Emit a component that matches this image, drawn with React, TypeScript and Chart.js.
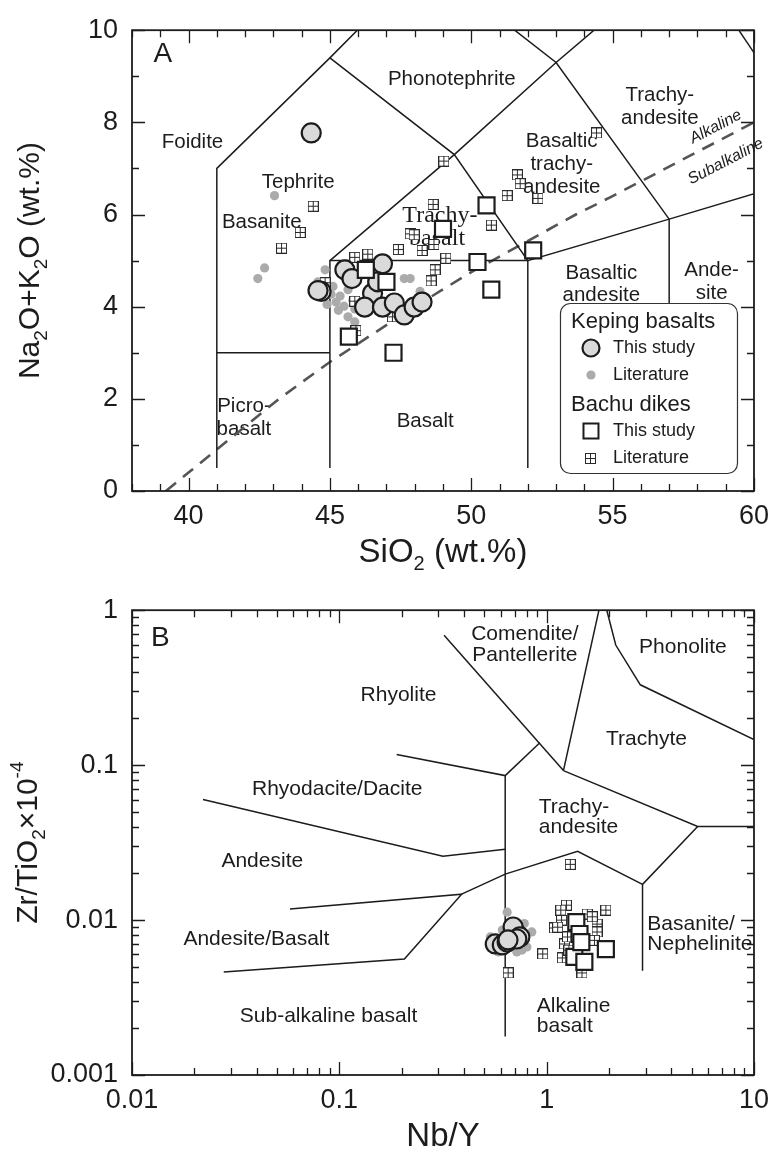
import { useEffect, useRef } from "react";
import { Chart, registerables } from "chart.js";
import type { ChartConfiguration, Plugin } from "chart.js";

Chart.register(...registerables);

const SANS = "'Liberation Sans', Arial, Helvetica, sans-serif";
const SERIF = "'Liberation Serif', 'Times New Roman', serif";
const INK = "#1c1c1c";

type Pt = [number, number];

// ---------- Panel A: total alkali vs silica ----------
const sio2Ticks = [40, 45, 50, 55, 60];
const alkaliTicks = [0, 2, 4, 6, 8, 10];

const kepingTasStudy: Pt[] = [
  [44.34, 7.77], [45.53, 4.8], [45.78, 4.61], [46.86, 4.93], [44.69, 4.33],
  [44.58, 4.35], [46.51, 4.29], [46.23, 3.99], [46.86, 3.99], [47.28, 4.08],
  [47.63, 3.82], [47.98, 3.99], [48.26, 4.1], [46.69, 4.54],
];
const kepingTasLit: Pt[] = [
  [43.04, 6.41], [42.69, 4.84], [42.45, 4.61], [44.83, 4.8], [44.58, 4.54],
  [45.11, 4.44], [45.36, 4.23], [45.64, 4.37], [45.22, 4.1], [45.5, 4.01],
  [45.81, 4.14], [45.04, 4.27], [45.88, 3.95], [45.64, 3.78], [45.88, 3.67],
  [47.63, 4.61], [47.84, 4.61], [48.19, 4.33], [44.9, 4.05], [45.3, 3.92],
];
const bachuTasStudy: Pt[] = [
  [46.27, 4.8], [47.0, 4.54], [45.67, 3.35], [47.25, 3.0], [50.54, 6.2],
  [49.0, 5.69], [52.19, 5.22], [50.22, 4.97], [50.71, 4.37],
];
const bachuTasLit: Pt[] = [
  [44.41, 6.18], [43.95, 5.61], [43.29, 5.27], [49.03, 7.16], [51.63, 6.86],
  [51.73, 6.67], [51.27, 6.41], [52.36, 6.35], [48.65, 6.22], [50.71, 5.77],
  [47.84, 5.58], [47.98, 5.56], [48.68, 5.35], [47.42, 5.24], [48.26, 5.22],
  [49.1, 5.05], [48.72, 4.8], [48.58, 4.56], [45.88, 5.07], [46.34, 5.14],
  [44.83, 4.52], [45.88, 4.12], [47.21, 3.78], [45.92, 3.48], [54.43, 7.77],
];

// Le Bas et al. (1986) field boundaries
const tasFields: Pt[][] = [
  [[41, 0.5], [41, 7], [45, 9.4], [48.4, 11.5]],
  [[41, 3], [45, 3]],
  [[45, 0.5], [45, 5], [49.4, 7.3], [53, 9.3], [57.6, 11.7]],
  [[45, 9.4], [49.4, 7.3], [52, 5], [57, 5.9], [63, 7]],
  [[45, 5], [52, 5]],
  [[52, 0.5], [52, 5]],
  [[48.4, 11.5], [53, 9.3], [57, 5.9], [57, 0.5]],
  [[57.6, 11.7], [61, 8.6]],
];

// Irvine & Baragar (1971) alkaline / subalkaline divide
const alkalineDivide: Pt[] = [
  [39.2, 0], [40, 0.4], [43.2, 2], [45, 2.8], [48, 4], [50, 4.75], [53.7, 6], [55, 6.4], [60, 8],
];

type FieldLabel = {
  text: string;
  x: number;
  y: number;
  size?: number;
  serif?: boolean;
  italic?: boolean;
  align?: CanvasTextAlign;
  alongDivide?: boolean;
};

const tasLabels: FieldLabel[] = [
  { text: "A", x: 39.09, y: 9.47, size: 28 },
  { text: "Foidite", x: 40.14, y: 7.56 },
  { text: "Tephrite", x: 43.88, y: 6.69 },
  { text: "Phonotephrite", x: 49.31, y: 8.94 },
  { text: "Basaltic", x: 53.2, y: 7.58 },
  { text: "trachy-", x: 53.2, y: 7.09 },
  { text: "andesite", x: 53.2, y: 6.6 },
  { text: "Trachy-", x: 56.67, y: 8.58 },
  { text: "andesite", x: 56.67, y: 8.09 },
  { text: "Basanite", x: 42.59, y: 5.82 },
  { text: "Trachy-", x: 48.89, y: 5.97, serif: true, size: 24 },
  { text: "basalt", x: 48.79, y: 5.48, serif: true, size: 24 },
  { text: "Basaltic", x: 54.6, y: 4.73 },
  { text: "andesite", x: 54.6, y: 4.25 },
  { text: "Ande-", x: 58.5, y: 4.78 },
  { text: "site", x: 58.5, y: 4.29 },
  { text: "Picro-", x: 41.96, y: 1.83 },
  { text: "basalt", x: 41.96, y: 1.34 },
  { text: "Basalt", x: 48.37, y: 1.51 },
  { text: "Alkaline", x: 58.65, y: 7.9, size: 16, italic: true, alongDivide: true },
  { text: "Subalkaline", x: 59.0, y: 7.15, size: 16, italic: true, alongDivide: true },
];

// ---------- Panel B: Zr/TiO2 vs Nb/Y (Winchester & Floyd, 1977) ----------
const nbyTicks = [0.01, 0.1, 1, 10];
const zrTiTicks = [0.001, 0.01, 0.1, 1];

const kepingWfStudy: Pt[] = [
  [0.565, 0.00701], [0.611, 0.00691], [0.645, 0.00722], [0.705, 0.00838],
  [0.689, 0.00902], [0.743, 0.00778], [0.718, 0.00755], [0.651, 0.00744],
];
const kepingWfLit: Pt[] = [
  [0.645, 0.01125], [0.611, 0.00863], [0.848, 0.00838], [0.803, 0.0067],
  [0.585, 0.00622], [0.718, 0.00622], [0.535, 0.00778], [0.76, 0.0064], [0.78, 0.0095],
];
const bachuWfStudy: Pt[] = [
  [1.39, 0.0097], [1.44, 0.00813], [1.93, 0.0065], [1.36, 0.00578], [1.52, 0.00537], [1.47, 0.0072],
];
const bachuWfLit: Pt[] = [
  [1.3, 0.0229], [0.652, 0.00456], [1.245, 0.01248], [1.18, 0.01], [1.09, 0.00889],
  [1.75, 0.00942], [1.75, 0.00838], [1.93, 0.0116], [1.22, 0.00701], [0.957, 0.00604],
  [1.19, 0.0057], [1.48, 0.00456], [1.26, 0.00778], [1.57, 0.01094], [1.13, 0.009],
  [1.28, 0.0064], [1.7, 0.0074], [1.66, 0.0105], [1.17, 0.0116],
];

const wfFields: Pt[][] = [
  [[0.32, 0.69], [1.205, 0.0922]],
  [[1.787, 1], [1.205, 0.0922]],
  [[1.95, 1], [2.154, 0.596], [2.83, 0.33], [10, 0.146]],
  [[0.189, 0.117], [0.631, 0.0856], [0.927, 0.1395]],
  [[0.631, 0.0856], [0.631, 0.00177]],
  [[1.205, 0.0922], [5.35, 0.0402], [10, 0.0402]],
  [[5.35, 0.0402], [2.9, 0.017], [2.9, 0.0047]],
  [[0.389, 0.01469], [0.631, 0.0198], [1.41, 0.0278], [2.9, 0.017]],
  [[0.022, 0.06], [0.316, 0.0258], [0.631, 0.0286]],
  [[0.0578, 0.01177], [0.389, 0.01469], [0.206, 0.00561], [0.0277, 0.00463]],
];

const wfLabels: FieldLabel[] = [
  { text: "B", x: 0.0137, y: 0.66, size: 28 },
  { text: "Comendite/", x: 0.785, y: 0.701 },
  { text: "Pantellerite", x: 0.785, y: 0.514 },
  { text: "Phonolite", x: 4.54, y: 0.578 },
  { text: "Rhyolite", x: 0.193, y: 0.284 },
  { text: "Trachyte", x: 3.03, y: 0.146 },
  { text: "Rhyodacite/Dacite", x: 0.0977, y: 0.0696 },
  { text: "Trachy-", x: 0.916, y: 0.0533, align: "left" },
  { text: "andesite", x: 0.916, y: 0.0396, align: "left" },
  { text: "Andesite", x: 0.0425, y: 0.0239 },
  { text: "Basanite/", x: 3.06, y: 0.00942, align: "left" },
  { text: "Nephelinite", x: 3.06, y: 0.00701, align: "left" },
  { text: "Andesite/Basalt", x: 0.0398, y: 0.00755 },
  { text: "Sub-alkaline basalt", x: 0.0887, y: 0.00238 },
  { text: "Alkaline", x: 0.896, y: 0.0028, align: "left" },
  { text: "basalt", x: 0.896, y: 0.00205, align: "left" },
];

// ---------- shared drawing helpers ----------
const toXY = (pts: Pt[]) => pts.map(([x, y]) => ({ x, y }));

function boxCross(size: number): HTMLCanvasElement {
  const c = document.createElement("canvas");
  c.width = size;
  c.height = size;
  const g = c.getContext("2d")!;
  g.fillStyle = "#ffffff";
  g.fillRect(0, 0, size, size);
  g.strokeStyle = "#2a2a2a";
  g.lineWidth = 1;
  g.strokeRect(0.5, 0.5, size - 1, size - 1);
  const m = Math.floor(size / 2) + 0.5;
  g.beginPath();
  g.moveTo(m, 0);
  g.lineTo(m, size);
  g.moveTo(0, m);
  g.lineTo(size, m);
  g.stroke();
  return c;
}

const CIRCLE = { r: 9.5, fill: "#dadada", stroke: INK, width: 2.2 };
const DOT = { r: 4.6, fill: "#ababab" };
const SQUARE = { side: 16, fill: "#ffffff", stroke: INK, width: 2.2 };
const CROSS_SIZE = 11;

function markerSets(keStudy: Pt[], keLit: Pt[], baStudy: Pt[], baLit: Pt[], cross: HTMLCanvasElement) {
  return [
    {
      label: "Bachu dikes, this study",
      data: toXY(baStudy),
      pointStyle: "rect",
      pointRadius: SQUARE.side / Math.SQRT2,
      backgroundColor: SQUARE.fill,
      borderColor: SQUARE.stroke,
      borderWidth: SQUARE.width,
    },
    {
      label: "Keping basalts, this study",
      data: toXY(keStudy),
      pointStyle: "circle",
      pointRadius: CIRCLE.r,
      backgroundColor: CIRCLE.fill,
      borderColor: CIRCLE.stroke,
      borderWidth: CIRCLE.width,
    },
    {
      label: "Bachu dikes, literature",
      data: toXY(baLit),
      pointStyle: cross,
      pointRadius: 6,
    },
    {
      label: "Keping basalts, literature",
      data: toXY(keLit),
      pointStyle: "circle",
      pointRadius: DOT.r,
      backgroundColor: DOT.fill,
      borderWidth: 0,
    },
  ];
}

function boundary(line: Pt[]) {
  return {
    data: toXY(line),
    showLine: true,
    pointRadius: 0,
    borderColor: INK,
    borderWidth: 1.5,
    tension: 0,
    fill: false,
  };
}

function fieldText(labels: FieldLabel[], baseSize: number): Plugin {
  return {
    id: "fieldText",
    beforeDatasetsDraw(chart) {
      const { ctx } = chart;
      const sx = chart.scales.x;
      const sy = chart.scales.y;
      ctx.save();
      ctx.fillStyle = INK;
      ctx.textBaseline = "middle";
      for (const l of labels) {
        const px = sx.getPixelForValue(l.x);
        const py = sy.getPixelForValue(l.y);
        ctx.font = `${l.italic ? "italic " : ""}${l.size ?? baseSize}px ${l.serif ? SERIF : SANS}`;
        ctx.textAlign = l.align ?? "center";
        if (l.alongDivide) {
          const n = alkalineDivide.length;
          const [x1, y1] = alkalineDivide[n - 2];
          const [x2, y2] = alkalineDivide[n - 1];
          const ang = Math.atan2(
            sy.getPixelForValue(y2) - sy.getPixelForValue(y1),
            sx.getPixelForValue(x2) - sx.getPixelForValue(x1)
          );
          ctx.save();
          ctx.translate(px, py);
          ctx.rotate(ang);
          ctx.fillText(l.text, 0, 0);
          ctx.restore();
        } else {
          ctx.fillText(l.text, px, py);
        }
      }
      ctx.restore();
    },
  };
}

type TickSpec = { xMajor: number[]; xMinor: number[]; yMajor: number[]; yMinor: number[] };

function frameAndTicks(spec: TickSpec): Plugin {
  return {
    id: "frameAndTicks",
    afterDatasetsDraw(chart) {
      const { ctx, chartArea: a } = chart;
      const sx = chart.scales.x;
      const sy = chart.scales.y;
      ctx.save();
      ctx.strokeStyle = INK;
      ctx.lineWidth = 1.3;
      ctx.beginPath();
      const xt = (v: number, len: number) => {
        const p = Math.round(sx.getPixelForValue(v)) + 0.5;
        ctx.moveTo(p, a.bottom);
        ctx.lineTo(p, a.bottom - len);
        ctx.moveTo(p, a.top);
        ctx.lineTo(p, a.top + len);
      };
      const yt = (v: number, len: number) => {
        const p = Math.round(sy.getPixelForValue(v)) + 0.5;
        ctx.moveTo(a.left, p);
        ctx.lineTo(a.left + len, p);
        ctx.moveTo(a.right, p);
        ctx.lineTo(a.right - len, p);
      };
      spec.xMajor.forEach((v) => xt(v, 13));
      spec.xMinor.forEach((v) => xt(v, 7));
      spec.yMajor.forEach((v) => yt(v, 13));
      spec.yMinor.forEach((v) => yt(v, 7));
      ctx.stroke();
      ctx.lineWidth = 1.8;
      ctx.strokeRect(a.left, a.top, a.right - a.left, a.bottom - a.top);
      ctx.restore();
    },
  };
}

type Run = { t: string; sub?: boolean; sup?: boolean };

function drawRuns(ctx: CanvasRenderingContext2D, runs: Run[], cx: number, cy: number, rot: number, size: number) {
  const small = Math.round(size * 0.62);
  ctx.save();
  ctx.translate(cx, cy);
  ctx.rotate(rot);
  ctx.textBaseline = "middle";
  ctx.textAlign = "left";
  ctx.fillStyle = INK;
  const fontOf = (r: Run) => `${r.sub || r.sup ? small : size}px ${SANS}`;
  const widths = runs.map((r) => {
    ctx.font = fontOf(r);
    return ctx.measureText(r.t).width;
  });
  let x = -widths.reduce((s, w) => s + w, 0) / 2;
  runs.forEach((r, i) => {
    ctx.font = fontOf(r);
    const dy = r.sub ? size * 0.36 : r.sup ? -size * 0.36 : 0;
    ctx.fillText(r.t, x, dy);
    x += widths[i];
  });
  ctx.restore();
}

const X_TITLE_SIZE = 33;
const Y_TITLE_SIZE = 30;

function axisTitles(xRuns: Run[], yRuns: Run[], xTitleY: number, yTitleX: number): Plugin {
  return {
    id: "axisTitles",
    afterDraw(chart) {
      const { ctx, chartArea: a } = chart;
      drawRuns(ctx, xRuns, (a.left + a.right) / 2, xTitleY, 0, X_TITLE_SIZE);
      drawRuns(ctx, yRuns, yTitleX, (a.top + a.bottom) / 2, -Math.PI / 2, Y_TITLE_SIZE);
    },
  };
}

const legendGroups = [
  { title: "Keping basalts", items: ["This study", "Literature"] },
  { title: "Bachu dikes", items: ["This study", "Literature"] },
];

function tasLegend(cross: HTMLCanvasElement): Plugin {
  return {
    id: "tasLegend",
    afterDraw(chart) {
      const { ctx, chartArea: a } = chart;
      const w = 177;
      const h = 170;
      const x0 = a.right - 17 - w;
      const y0 = a.bottom - 18 - h;
      ctx.save();
      ctx.fillStyle = "#ffffff";
      ctx.strokeStyle = "#333333";
      ctx.lineWidth = 1.2;
      ctx.beginPath();
      ctx.roundRect(x0 + 0.5, y0 + 0.5, w, h, 10);
      ctx.fill();
      ctx.stroke();
      ctx.textBaseline = "middle";
      ctx.textAlign = "left";
      let y = y0 + 19;
      legendGroups.forEach((g, gi) => {
        ctx.fillStyle = INK;
        ctx.font = `22px ${SANS}`;
        ctx.fillText(g.title, x0 + 11, y);
        y += 26;
        g.items.forEach((item, ii) => {
          const ix = x0 + 31;
          if (gi === 0 && ii === 0) {
            ctx.beginPath();
            ctx.arc(ix, y, 8.5, 0, Math.PI * 2);
            ctx.fillStyle = CIRCLE.fill;
            ctx.fill();
            ctx.lineWidth = 2.2;
            ctx.strokeStyle = INK;
            ctx.stroke();
          } else if (gi === 0) {
            ctx.beginPath();
            ctx.arc(ix, y, DOT.r, 0, Math.PI * 2);
            ctx.fillStyle = DOT.fill;
            ctx.fill();
          } else if (ii === 0) {
            ctx.fillStyle = "#fff";
            ctx.fillRect(ix - 7.5, y - 7.5, 15, 15);
            ctx.lineWidth = 2;
            ctx.strokeStyle = INK;
            ctx.strokeRect(ix - 7.5, y - 7.5, 15, 15);
          } else {
            ctx.drawImage(cross, Math.round(ix - CROSS_SIZE / 2), Math.round(y - CROSS_SIZE / 2));
          }
          ctx.fillStyle = INK;
          ctx.font = `18px ${SANS}`;
          ctx.fillText(item, x0 + 53, y);
          y += 27;
        });
        y += 3;
      });
      ctx.restore();
    },
  };
}

function axisOptions(
  type: "linear" | "logarithmic",
  min: number,
  max: number,
  ticks: number[],
  fit: (s: any) => void,
  padding: number
) {
  return {
    type,
    min,
    max,
    afterBuildTicks: (s: any) => {
      s.ticks = ticks.map((v) => ({ value: v }));
    },
    afterFit: fit,
    grid: { display: false, drawTicks: false },
    border: { display: false },
    ticks: {
      font: { family: SANS, size: 27 },
      color: INK,
      padding,
      maxRotation: 0,
      autoSkip: false,
      callback: (v: any) => String(v),
    },
  };
}

function range(a: number, b: number) {
  const out: number[] = [];
  for (let i = a; i <= b; i++) out.push(i);
  return out;
}

function logMinor(fromExp: number, toExp: number) {
  const out: number[] = [];
  for (let e = fromExp; e < toExp; e++) for (let m = 2; m <= 9; m++) out.push(m * Math.pow(10, e));
  return out;
}

function tasConfig(): ChartConfiguration<"scatter"> {
  const cross = boxCross(CROSS_SIZE);
  return {
    type: "scatter",
    data: {
      datasets: [
        ...markerSets(kepingTasStudy, kepingTasLit, bachuTasStudy, bachuTasLit, cross),
        ...tasFields.map(boundary),
        { ...boundary(alkalineDivide), borderDash: [13, 9], borderColor: "#555555", borderWidth: 2.6 },
      ] as any,
    },
    options: {
      responsive: false,
      animation: false,
      events: [],
      layout: { autoPadding: false, padding: { left: 0, right: 18, top: 20, bottom: 0 } },
      plugins: { legend: { display: false }, tooltip: { enabled: false }, title: { display: false } },
      scales: {
        x: axisOptions("linear", 38, 60, sio2Ticks, (s) => { s.height = 89; }, 9),
        y: axisOptions("linear", 0, 10, alkaliTicks, (s) => { s.width = 132; }, 14),
      } as any,
    },
    plugins: [
      fieldText(tasLabels, 20.5),
      frameAndTicks({
        xMajor: sio2Ticks,
        xMinor: range(38, 60).filter((v) => v % 5 !== 0),
        yMajor: alkaliTicks,
        yMinor: range(0, 10).filter((v) => v % 2 !== 0),
      }),
      axisTitles(
        [{ t: "SiO" }, { t: "2", sub: true }, { t: " (wt.%)" }],
        [{ t: "Na" }, { t: "2", sub: true }, { t: "O+K" }, { t: "2", sub: true }, { t: "O (wt.%)" }],
        553,
        31
      ),
      tasLegend(cross),
    ],
  };
}

function wfConfig(): ChartConfiguration<"scatter"> {
  const cross = boxCross(CROSS_SIZE);
  return {
    type: "scatter",
    data: {
      datasets: [
        ...markerSets(kepingWfStudy, kepingWfLit, bachuWfStudy, bachuWfLit, cross),
        ...wfFields.map(boundary),
      ] as any,
    },
    options: {
      responsive: false,
      animation: false,
      events: [],
      layout: { autoPadding: false, padding: { left: 0, right: 16, top: 27, bottom: 0 } },
      plugins: { legend: { display: false }, tooltip: { enabled: false }, title: { display: false } },
      scales: {
        x: axisOptions("logarithmic", 0.01, 10, nbyTicks, (s) => { s.height = 78; }, 9),
        y: axisOptions("logarithmic", 0.001, 1, zrTiTicks, (s) => { s.width = 132; }, 14),
      } as any,
    },
    plugins: [
      fieldText(wfLabels, 21),
      frameAndTicks({
        xMajor: nbyTicks,
        xMinor: logMinor(-2, 1),
        yMajor: zrTiTicks,
        yMinor: logMinor(-3, 0),
      }),
      axisTitles(
        [{ t: "Nb/Y" }],
        [{ t: "Zr/TiO" }, { t: "2", sub: true }, { t: "×10" }, { t: "-4", sup: true }],
        557,
        29
      ),
    ],
  };
}

export default function App() {
  const topRef = useRef<HTMLCanvasElement>(null);
  const bottomRef = useRef<HTMLCanvasElement>(null);

  useEffect(() => {
    const tas = new Chart(topRef.current!, tasConfig());
    const wf = new Chart(bottomRef.current!, wfConfig());
    return () => {
      tas.destroy();
      wf.destroy();
    };
  }, []);

  return (
    <div style={{ position: "absolute", left: 0, top: 0, width: 778, height: 1153, background: "#ffffff" }}>
      <canvas ref={topRef} width={778} height={580} style={{ position: "absolute", left: 0, top: 0 }} />
      <canvas ref={bottomRef} width={778} height={573} style={{ position: "absolute", left: 0, top: 580 }} />
    </div>
  );
}
